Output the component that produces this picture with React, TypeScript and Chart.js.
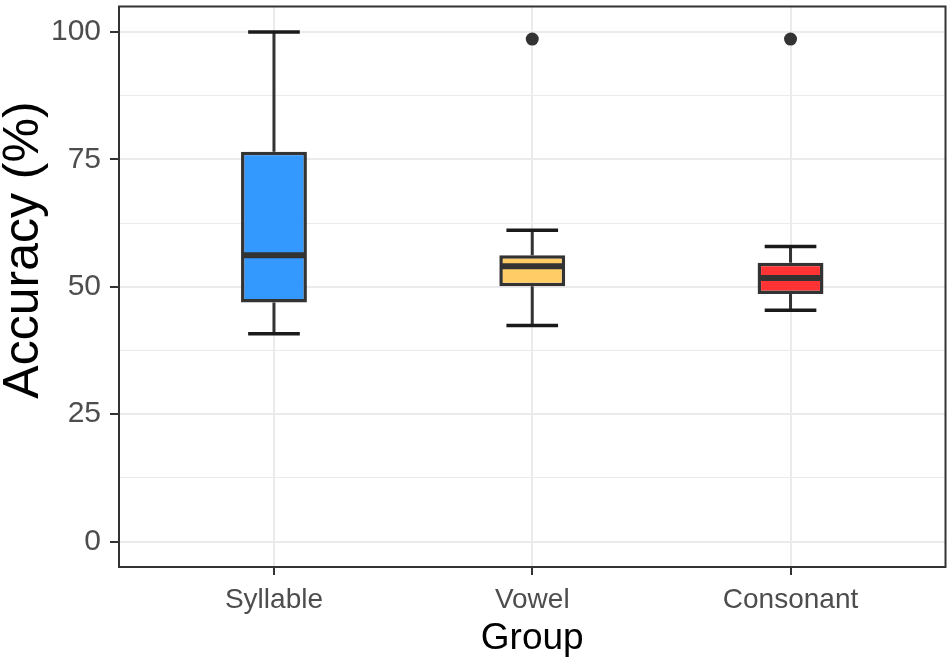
import React, { useEffect, useRef } from "react";
import { Chart, registerables } from "chart.js";

Chart.register(...registerables);

const categories = ["Syllable", "Vowel", "Consonant"];
const whiskerLow = [40.8, 42.4, 45.4];
const q1 = [46.9, 50.1, 48.6];
const median = [56.2, 54.0, 51.7];
const q3 = [76.5, 56.2, 54.7];
const whiskerHigh = [100, 61.1, 57.9];
const outliers: number[][] = [[], [98.6], [98.6]];
const fillColors = ["#3399FF", "#FFCC66", "#FF3333"];
const yMajorTicks = [0, 25, 50, 75, 100];
const yMinorTicks = [12.5, 37.5, 62.5, 87.5];

const FONT = "'Liberation Sans', Arial, Helvetica, sans-serif";

const boxPlugin = {
  id: "boxParts",
  beforeDatasetsDraw(chart: any) {
    const { ctx, scales } = chart;
    const x = scales.x;
    const y = scales.y;
    ctx.save();
    categories.forEach((_, i) => {
      const cx = x.getPixelForValue(i + 1);
      ctx.strokeStyle = "#333333";
      ctx.lineWidth = 3;
      ctx.beginPath();
      ctx.moveTo(cx, y.getPixelForValue(q3[i]));
      ctx.lineTo(cx, y.getPixelForValue(whiskerHigh[i]));
      ctx.moveTo(cx, y.getPixelForValue(q1[i]));
      ctx.lineTo(cx, y.getPixelForValue(whiskerLow[i]));
      ctx.stroke();
      ctx.strokeStyle = "#1a1a1a";
      ctx.lineWidth = 3.5;
      ctx.beginPath();
      const l = x.getPixelForValue(i + 1 - 0.1);
      const r = x.getPixelForValue(i + 1 + 0.1);
      ctx.moveTo(l, y.getPixelForValue(whiskerHigh[i]));
      ctx.lineTo(r, y.getPixelForValue(whiskerHigh[i]));
      ctx.moveTo(l, y.getPixelForValue(whiskerLow[i]));
      ctx.lineTo(r, y.getPixelForValue(whiskerLow[i]));
      ctx.stroke();
    });
    ctx.restore();
  },
  afterDatasetsDraw(chart: any) {
    const { ctx, scales } = chart;
    const x = scales.x;
    const y = scales.y;
    ctx.save();
    ctx.strokeStyle = "#333333";
    ctx.lineWidth = 6;
    categories.forEach((_, i) => {
      const l = x.getPixelForValue(i + 1 - 0.1275) + 1;
      const r = x.getPixelForValue(i + 1 + 0.1275) - 1;
      const py = y.getPixelForValue(median[i]);
      ctx.beginPath();
      ctx.moveTo(l, py);
      ctx.lineTo(r, py);
      ctx.stroke();
    });
    ctx.restore();
  },
  afterDraw(chart: any) {
    const { ctx, chartArea } = chart;
    ctx.save();
    ctx.strokeStyle = "#333333";
    ctx.lineWidth = 2;
    ctx.strokeRect(
      chartArea.left,
      chartArea.top,
      chartArea.right - chartArea.left,
      chartArea.bottom - chartArea.top
    );
    ctx.fillStyle = "#000000";
    ctx.font = `50px ${FONT}`;
    ctx.textAlign = "center";
    ctx.textBaseline = "middle";
    ctx.translate(24, 250);
    ctx.rotate(-Math.PI / 2);
    ctx.fillText("Accuracy (%)", 0, 0);
    ctx.restore();
  },
};

export default function App() {
  const ref = useRef<HTMLCanvasElement | null>(null);

  useEffect(() => {
    document.body.style.margin = "0";
    if (!ref.current) return;
    const yTickValues = [...yMajorTicks, ...yMinorTicks].sort((a, b) => a - b);
    const isMajor = (v: number) => yMajorTicks.includes(v);

    const outlierData: { x: number; y: number }[] = [];
    outliers.forEach((arr, i) => arr.forEach((v) => outlierData.push({ x: i + 1, y: v })));

    const chart = new Chart(ref.current, {
      type: "bar",
      data: {
        datasets: [
          {
            type: "bar",
            data: categories.map((_, i) => ({ x: i + 1, y: [q1[i], q3[i]] })) as any,
            backgroundColor: fillColors,
            borderColor: "#333333",
            borderWidth: 3.5,
            borderSkipped: false,
            barPercentage: 0.255,
            categoryPercentage: 1,
            grouped: false,
          } as any,
          {
            type: "scatter",
            data: outlierData,
            pointRadius: 6.5,
            pointBackgroundColor: "#333333",
            pointBorderWidth: 0,
          } as any,
        ],
      },
      options: {
        animation: false,
        responsive: false,
        devicePixelRatio: 1,
        layout: { padding: { top: 4, right: 6, left: 0, bottom: 0 } },
        plugins: {
          legend: { display: false },
          tooltip: { enabled: false },
        },
        scales: {
          x: {
            type: "linear",
            min: 0.4,
            max: 3.6,
            offset: false,
            afterBuildTicks: (s: any) => {
              s.ticks = categories.map((_, i) => ({ value: i + 1 }));
            },
            afterFit: (s: any) => {
              s.height = 98;
              s.paddingLeft = 0;
              s.paddingRight = 0;
            },
            ticks: {
              autoSkip: false,
              maxRotation: 0,
              padding: 8,
              color: "#4D4D4D",
              font: { size: 28, family: FONT },
              callback: (v: any) => categories[Math.round(v) - 1] ?? "",
            },
            grid: {
              offset: false,
              color: "#EBEBEB",
              lineWidth: 2,
              tickColor: "#333333",
              tickLength: 8,
              tickWidth: 2,
            },
            border: { display: false },
            title: {
              display: true,
              text: "Group",
              color: "#000000",
              font: { size: 37, family: FONT },
              padding: { top: 0, bottom: 4 },
            },
          },
          y: {
            type: "linear",
            min: -5,
            max: 105,
            afterBuildTicks: (s: any) => {
              s.ticks = yTickValues.map((v) => ({ value: v }));
            },
            afterFit: (s: any) => {
              s.width = 119;
              s.paddingTop = 0;
              s.paddingBottom = 0;
            },
            ticks: {
              autoSkip: false,
              padding: 9,
              color: "#4D4D4D",
              font: { size: 30, family: FONT },
              callback: (v: any) => (isMajor(v) ? String(v) : ""),
            },
            grid: {
              color: "#EBEBEB",
              lineWidth: (c: any) => (isMajor(c.tick?.value) ? 2 : 1),
              tickColor: (c: any) =>
                isMajor(c.tick?.value) ? "#333333" : "rgba(0,0,0,0)",
              tickLength: 9,
              tickWidth: 2,
            },
            border: { display: false },
            title: { display: false },
          },
        },
      } as any,
      plugins: [boxPlugin],
    });
    return () => chart.destroy();
  }, []);

  return (
    <div style={{ width: 952, height: 665, background: "#ffffff" }}>
      <canvas ref={ref} width={952} height={665} style={{ display: "block", width: 952, height: 665 }} />
    </div>
  );
}
